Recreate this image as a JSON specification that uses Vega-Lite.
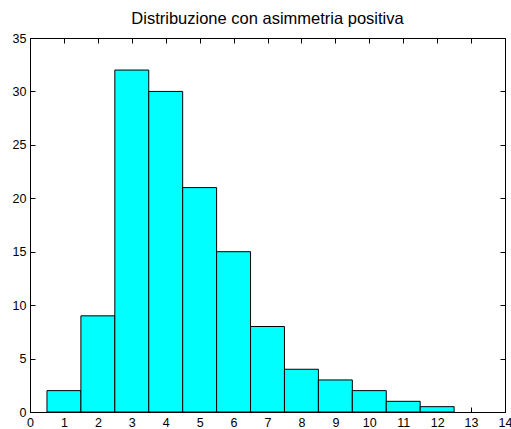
{
  "$schema": "https://vega.github.io/schema/vega-lite/v6.json",
  "width": 475,
  "height": 374,
  "autosize": {"type": "none"},
  "padding": {"left": 30, "top": 38, "right": 6, "bottom": 17},
  "background": "white",
  "title": {"text": "Distribuzione con asimmetria positiva", "font": "Liberation Sans", "fontSize": 16.5, "fontWeight": "normal", "color": "#000000", "offset": 5},
  "config": {
    "view": {"stroke": "#000000", "strokeWidth": 1},
    "axis": {"labelFont": "Liberation Sans", "labelFontSize": 12.5, "labelColor": "#000000", "grid": false, "domainColor": "#000000", "tickColor": "#000000", "tickSize": -5, "title": null}
  },
  "data": {"values": [
    {"center": 1, "lo": 0.5, "hi": 1.5, "count": 2},
    {"center": 2, "lo": 1.5, "hi": 2.5, "count": 9},
    {"center": 3, "lo": 2.5, "hi": 3.5, "count": 32},
    {"center": 4, "lo": 3.5, "hi": 4.5, "count": 30},
    {"center": 5, "lo": 4.5, "hi": 5.5, "count": 21},
    {"center": 6, "lo": 5.5, "hi": 6.5, "count": 15},
    {"center": 7, "lo": 6.5, "hi": 7.5, "count": 8},
    {"center": 8, "lo": 7.5, "hi": 8.5, "count": 4},
    {"center": 9, "lo": 8.5, "hi": 9.5, "count": 3},
    {"center": 10, "lo": 9.5, "hi": 10.5, "count": 2},
    {"center": 11, "lo": 10.5, "hi": 11.5, "count": 1},
    {"center": 12, "lo": 11.5, "hi": 12.5, "count": 0.5}
  ]},
  "layer": [
    {
      "mark": {"type": "bar", "fill": "#00FFFF", "stroke": "#000000", "strokeWidth": 1},
      "encoding": {
        "x": {"field": "lo", "type": "quantitative", "scale": {"domain": [0, 14], "nice": false}, "axis": {"values": [0,1,2,3,4,5,6,7,8,9,10,11,12,13,14], "labelPadding": 9, "labelFlush": false, "labelOverlap": false}},
        "x2": {"field": "hi"},
        "y": {"field": "count", "type": "quantitative", "scale": {"domain": [0, 35], "nice": false}, "axis": {"values": [0,5,10,15,20,25,30,35], "labelPadding": 9, "labelFlush": false}},
        "y2": {"datum": 0}
      }
    },
    {
      "mark": {"type": "point", "opacity": 0},
      "encoding": {
        "x": {"field": "center", "type": "quantitative", "scale": {"domain": [0, 14], "nice": false}, "axis": {"orient": "top", "values": [0,1,2,3,4,5,6,7,8,9,10,11,12,13,14], "labels": false}},
        "y": {"field": "count", "type": "quantitative", "scale": {"domain": [0, 35], "nice": false}, "axis": {"orient": "right", "values": [0,5,10,15,20,25,30,35], "labels": false}}
      }
    }
  ],
  "resolve": {"axis": {"x": "independent", "y": "independent"}}
}
